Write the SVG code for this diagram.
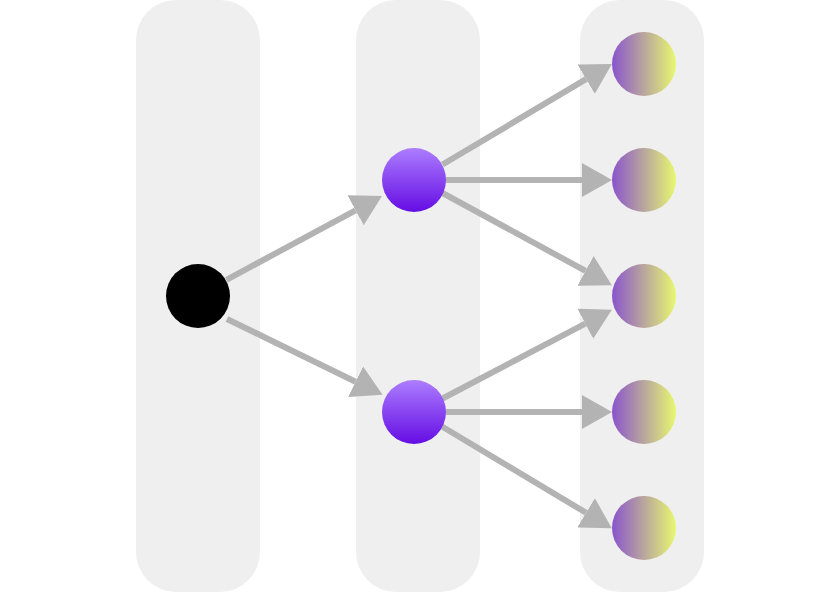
<svg xmlns="http://www.w3.org/2000/svg" width="820" height="592" viewBox="0 0 820 592">
  <style>
    .col { fill: #efefef; }
    .edge { stroke: #b3b3b3; stroke-width: 6; fill: none; marker-end: url(#arrow); }
  </style>
  <defs>
    <marker id="arrow" markerUnits="userSpaceOnUse" viewBox="0 -17 30 34" refX="0" refY="0" markerWidth="30" markerHeight="34" orient="auto">
      <path d="M0,-17 L30,0 L0,17 z" fill="#b3b3b3"/>
    </marker>
    <linearGradient id="gPurple" x1="0" y1="0" x2="0" y2="1">
      <stop offset="0" stop-color="#ac7dff"/>
      <stop offset="1" stop-color="#650de3"/>
    </linearGradient>
    <linearGradient id="gOut" x1="0" y1="0" x2="1" y2="0">
      <stop offset="0" stop-color="#8a54cc"/>
      <stop offset="1" stop-color="#e8f86f"/>
    </linearGradient>
  </defs>
  <rect width="820" height="592" fill="#ffffff"/>
  <g id="columns">
    <rect class="col" x="136" y="0" width="124" height="592" rx="40" ry="40"/>
    <rect class="col" x="356" y="0" width="124" height="592" rx="40" ry="40"/>
    <rect class="col" x="580" y="0" width="124" height="592" rx="40" ry="40"/>
  </g>
  <g id="connectors">
    <line class="edge" x1="226.5" y1="279.8" x2="355.6" y2="210.3"/>
    <line class="edge" x1="227" y1="319" x2="355.6" y2="381.7"/>
    <line class="edge" x1="442.5" y1="164.5" x2="586.1" y2="79.2"/>
    <line class="edge" x1="446" y1="180" x2="582" y2="180"/>
    <line class="edge" x1="442.5" y1="193" x2="585.5" y2="270.9"/>
    <line class="edge" x1="442.5" y1="398.5" x2="585.3" y2="323.7"/>
    <line class="edge" x1="446" y1="412" x2="582" y2="412"/>
    <line class="edge" x1="442" y1="426.5" x2="586.1" y2="512.8"/>
  </g>
  <g id="input"><circle cx="198" cy="296" r="32" fill="#000000"/></g>
  <g id="hidden1"><circle cx="414" cy="180" r="32" fill="url(#gPurple)"/></g>
  <g id="hidden2"><circle cx="414" cy="412" r="32" fill="url(#gPurple)"/></g>
  <g id="out1"><circle cx="644" cy="64" r="32" fill="url(#gOut)"/></g>
  <g id="out2"><circle cx="644" cy="180" r="32" fill="url(#gOut)"/></g>
  <g id="out3"><circle cx="644" cy="296" r="32" fill="url(#gOut)"/></g>
  <g id="out4"><circle cx="644" cy="412" r="32" fill="url(#gOut)"/></g>
  <g id="out5"><circle cx="644" cy="528" r="32" fill="url(#gOut)"/></g>
</svg>
